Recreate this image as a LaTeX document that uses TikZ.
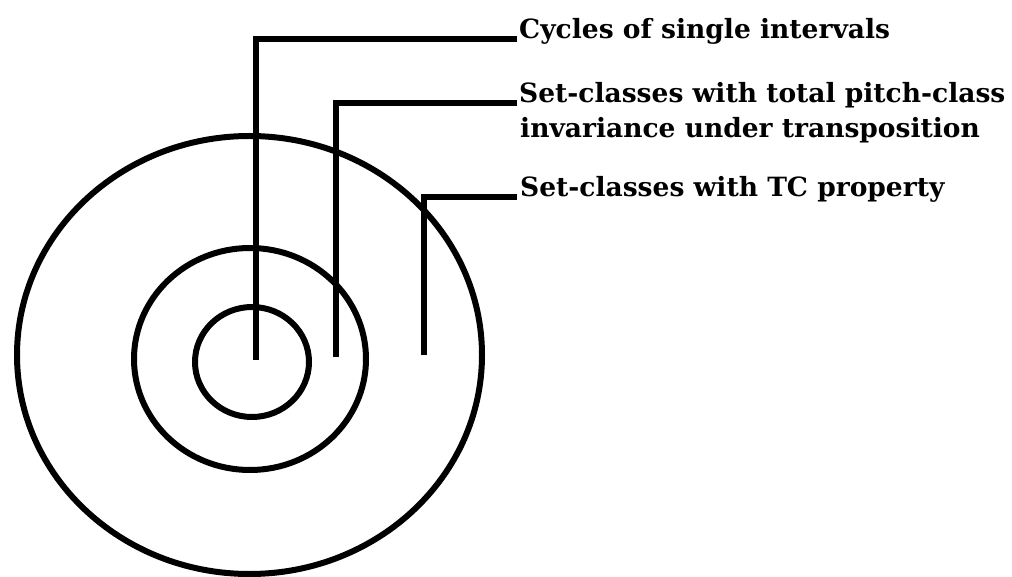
\documentclass[tikz,border=0pt]{standalone}
\usepackage{fontspec}
\setmainfont{DejaVu Serif}
\begin{document}
\begin{tikzpicture}[x=1pt,y=-1pt,
  ring/.style={line width=6pt},
  leader/.style={line width=6.5pt},
  lbl/.style={anchor=base west,inner sep=0pt,font=\fontsize{26.5}{31}\selectfont\bfseries}]
\useasboundingbox (0,0) rectangle (1012,577);
% rings
\draw[ring] (249.5,355) ellipse [x radius=232.5pt, y radius=219pt];
\draw[ring] (250,359) ellipse [x radius=116pt, y radius=111pt];
\draw[ring] (252,362) ellipse [x radius=57pt, y radius=55pt];
% labels
\node[lbl] (t1) at (519,39) {Cycles of single intervals};
\node[lbl] (t2) at (519,103) {Set-classes with total pitch-class};
\node[lbl] (t2b) at (520,138) {invariance under transposition};
\node[lbl] (t3) at (520,197) {Set-classes with TC property};
% leaders
\coordinate (p1) at (256,360);
\coordinate (p2) at (336,357);
\coordinate (p3) at (424,355);
\draw[leader] (p1) |- ([xshift=-2pt]t1.base west);
\draw[leader] (p2) |- ([xshift=-2pt]t2.base west);
\draw[leader] (p3) |- ([xshift=-3pt]t3.base west);
\end{tikzpicture}
\end{document}
